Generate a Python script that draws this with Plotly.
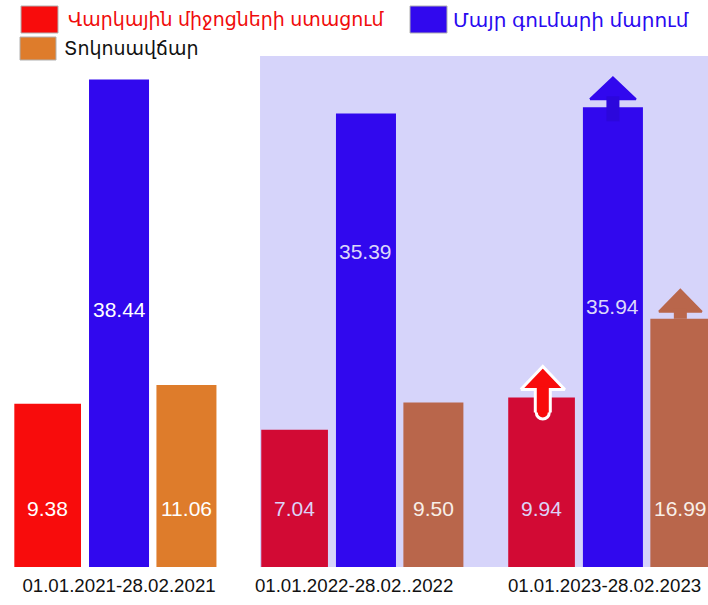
import plotly.graph_objects as go

# ---------------- data ----------------
periods = ["01.01.2021-28.02.2021", "01.01.2022-28.02..2022", "01.01.2023-28.02.2023"]
series_names = ["Վարկային միջոցների ստացում", "Մայր գումարի մարում", "Տոկոսավճար"]
loans_received = [9.38, 7.04, 9.94]
principal_repaid = [38.44, 35.39, 35.94]
interest_paid = [11.06, 9.50, 16.99]

# ---------------- styles ----------------
W, H = 708, 605
M_T, M_B = 56, 38
PLOT_H = H - M_T - M_B
BASE = -5.25               # value axis starts below zero
PXU = 11.16                # pixels per value unit
Y_TOP = BASE + PLOT_H / PXU
X_RANGE = [-0.482, 2.385]
PXX = W / (X_RANGE[1] - X_RANGE[0])   # pixels per category unit

RED = "#f80c0c"
CRIMSON = "#d20a34"
BLUE = "#3108ee"
ORANGE = "#de7c2b"
BROWN = "#b9664b"
SHADE = "#d6d4fa"
FONT = "Arial, Liberation Sans, DejaVu Sans, sans-serif"

red_colors = [RED, CRIMSON, CRIMSON]
brown_colors = [ORANGE, BROWN, BROWN]
OFF_L, OFF_R = -0.289, 0.273
W_L, W_M, W_R = 0.27, 0.243, 0.243
tick_shift = [0.0, -0.048, -0.034]
label_colors_side = ["#ffffff", "#dcd3f7", "#dcd3f7"]
label_colors_side_r = ["#ffffff", "#f8efe8", "#f8efe8"]
label_colors_mid = ["#ffffff", "#dcd8fa", "#dcd8fa"]
mid_label_y = [17.8, 23.0, 18.1]
side_label_y = 0.0


def u(px):
    return px / PXU


def ux(px):
    return px / PXX


idx = list(range(len(periods)))
fig = go.Figure()

fig.add_trace(go.Bar(x=[i + OFF_L for i in idx], y=[v - BASE for v in loans_received], base=BASE,
                     width=W_L, marker=dict(color=red_colors, line=dict(width=0)), name=series_names[0]))
fig.add_trace(go.Bar(x=idx, y=[v - BASE for v in principal_repaid], base=BASE,
                     width=W_M, marker=dict(color=BLUE, line=dict(width=0)), name=series_names[1]))
fig.add_trace(go.Bar(x=[i + OFF_R for i in idx], y=[v - BASE for v in interest_paid], base=BASE,
                     width=W_R, marker=dict(color=brown_colors, line=dict(width=0)), name=series_names[2]))


# ---------------- arrows on last period ----------------
def add_arrow(xc, top, tail_px, tip_px, head_h, head_w, stem_w, color, outline=None, stem_color=None):
    y_tail = top - u(tail_px)
    y_tip = top + u(tip_px)
    y_hb = y_tip - u(head_h)
    hw = ux(head_w / 2)
    if outline:
        fig.add_trace(go.Scatter(x=[xc, xc], y=[y_tail, y_hb], mode="lines", hoverinfo="skip",
                                 line=dict(color=outline, width=stem_w + 6)))
        fig.add_trace(go.Scatter(x=[xc], y=[y_tail], mode="markers", hoverinfo="skip",
                                 marker=dict(symbol="circle", size=stem_w + 1, color=color,
                                             line=dict(color=outline, width=3))))
    fig.add_trace(go.Scatter(x=[xc - hw, xc, xc + hw, xc - hw], y=[y_hb, y_tip, y_hb, y_hb],
                             mode="lines", fill="toself", fillcolor=color, hoverinfo="skip",
                             line=dict(color=outline if outline else color, width=3 if outline else 2)))
    fig.add_trace(go.Scatter(x=[xc, xc], y=[y_tail, y_hb + u(3)], mode="lines", hoverinfo="skip",
                             line=dict(color=stem_color or color, width=stem_w)))


last = idx[-1]
add_arrow(last, principal_repaid[-1], 14, 30, 22, 46, 13, BLUE, stem_color="#2c07dc")
add_arrow(last + OFF_R, interest_paid[-1], 0, 29, 22, 43, 13, BROWN)
add_arrow(last + OFF_L + 0.005, loans_received[-1], 15, 31, 23, 44, 12, RED, outline="white")

# ---------------- value labels ----------------
ann = []
for i in idx:
    ann.append(dict(x=i + OFF_L, y=side_label_y, text=f"{loans_received[i]:.2f}", showarrow=False,
                    font=dict(family=FONT, size=21, color=label_colors_side[i]), xref="x", yref="y"))
    ann.append(dict(x=i, y=mid_label_y[i], text=f"{principal_repaid[i]:.2f}", showarrow=False,
                    font=dict(family=FONT, size=21, color=label_colors_mid[i]), xref="x", yref="y"))
    ann.append(dict(x=i + OFF_R, y=side_label_y, text=f"{interest_paid[i]:.2f}", showarrow=False,
                    font=dict(family=FONT, size=21, color=label_colors_side_r[i]), xref="x", yref="y"))


# ---------------- manual legend ----------------
def px_x(px):
    return px / W


def px_y(py):
    return (H - M_B - py) / PLOT_H


shapes = [dict(type="rect", layer="below", xref="x", yref="paper", x0=0.571, x1=3, y0=0, y1=1,
               fillcolor=SHADE, line=dict(width=0))]
legend_items = [
    (series_names[0], RED, "#f00c0c", 21, 6, 58, 33, 66, 19),
    (series_names[1], BLUE, "#2a0af0", 410, 6, 447, 33, 451, 20),
    (series_names[2], ORANGE, "#111111", 20, 37, 56, 60, 62, 19),
]
for name, fill, tcol, x0, y0, x1, y1, tx, fs in legend_items:
    shapes.append(dict(type="rect", xref="paper", yref="paper", x0=px_x(x0), x1=px_x(x1),
                       y0=px_y(y1), y1=px_y(y0), fillcolor=fill, line=dict(color="#b0b0b0", width=1)))
    ann.append(dict(x=px_x(tx), y=px_y((y0 + y1) / 2), xref="paper", yref="paper", text=name,
                    showarrow=False, xanchor="left", yanchor="middle",
                    font=dict(family=FONT, size=fs, color=tcol)))

fig.update_layout(
    width=W, height=H,
    margin=dict(l=0, r=0, t=M_T, b=M_B, pad=0),
    paper_bgcolor="white", plot_bgcolor="rgba(0,0,0,0)",
    showlegend=False, barmode="overlay",
    shapes=shapes, annotations=ann,
    xaxis=dict(range=X_RANGE, tickvals=[i + s for i, s in zip(idx, tick_shift)], ticktext=periods,
               showgrid=False, zeroline=False, showline=False, ticks="", ticklabelstandoff=5,
               ticklabeloverflow="allow",
               tickfont=dict(family=FONT, size=18.7, color="#111111")),
    yaxis=dict(range=[BASE, Y_TOP], visible=False, showgrid=False, zeroline=False),
)

fig.write_html("out.html", config={"displayModeBar": False},
               post_script="document.body.style.margin='0';document.body.style.overflow='hidden';")
